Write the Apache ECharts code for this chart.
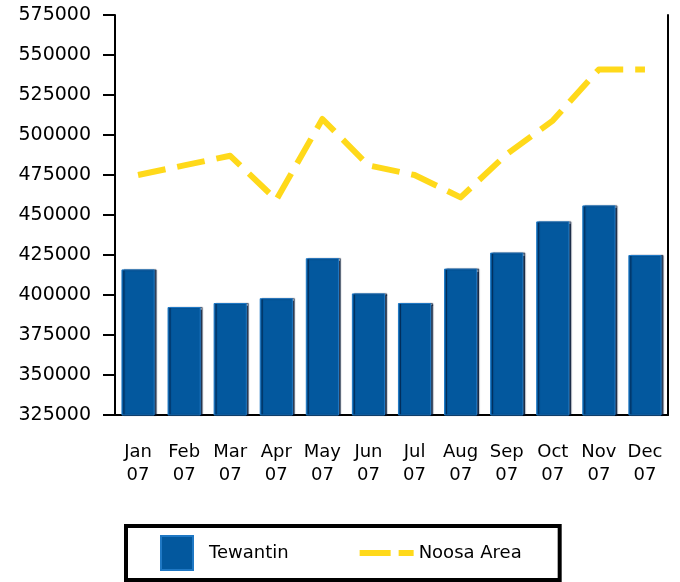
<!DOCTYPE html>
<html><head><meta charset="utf-8">
<script src="https://cdn.jsdelivr.net/npm/echarts@6/dist/echarts.min.js"></script>
<style>html,body{margin:0;padding:0;background:#fff}#c{width:680px;height:582px}</style>
</head><body><div id="c"></div>
<script>
var categories = ["Jan\n07","Feb\n07","Mar\n07","Apr\n07","May\n07","Jun\n07","Jul\n07","Aug\n07","Sep\n07","Oct\n07","Nov\n07","Dec\n07"];
var tewantin = [416000, 392500, 395000, 398000, 423000, 401000, 395000, 416500, 426500, 446000, 456000, 425000];
var noosaArea = [475000, 481000, 487000, 459500, 510000, 481000, 475000, 461000, 488000, 509000, 541000, 541000];
var yMin = 325000, yMax = 575000, yStep = 25000;

var font = 'DejaVu Sans';
var chart = echarts.init(document.getElementById('c'), null, {renderer:'canvas'});
chart.setOption({
  animation: false,
  backgroundColor: '#fff',
  grid: {left: 115, right: 12, top: 15, bottom: 167},
  xAxis: {
    type: 'category', data: categories,
    axisLine: {lineStyle: {color: '#000', width: 2}},
    axisTick: {alignWithLabel: true, length: 10, lineStyle: {color: '#000', width: 2}},
    axisLabel: {color: '#000', fontFamily: font, fontSize: 18, lineHeight: 23, margin: 26, interval: 0}
  },
  yAxis: [{
    type: 'value', min: yMin, max: yMax, interval: yStep,
    axisLine: {show: true, lineStyle: {color: '#000', width: 2}},
    axisTick: {show: true, length: 12, lineStyle: {color: '#000', width: 2}},
    axisLabel: {color: '#000', fontFamily: font, fontSize: 19, margin: 24, formatter: function(v){return String(v);}},
    splitLine: {show: false}
  },{
    type: 'value', min: yMin, max: yMax, interval: yStep, position: 'right',
    axisLine: {show: true, lineStyle: {color: '#000', width: 2}},
    axisTick: {show: false}, axisLabel: {show: false}, splitLine: {show: false}
  }],
  legend: {
    left: 126, top: 526,
    padding: [9, 38, 9, 34],
    borderColor: '#000', borderWidth: 4,
    itemWidth: 54, itemHeight: 34, itemGap: 71,
    textStyle: {color: '#000', fontFamily: font, fontSize: 18},
    data: [
      {name: 'Tewantin', icon: 'path://M0,0h32v34h-32z'},
      {name: 'Noosa Area', icon: 'path://M0,0h31v6h-31zM39,0h15v6h-15z'}
    ]
  },
  series: [{
    name: 'Tewantin', type: 'bar', data: tewantin, barCategoryGap: '28%',
    itemStyle: {color: '#03589e', borderColor: '#1f78c4', borderWidth: 1,
      shadowColor: 'rgba(0,20,50,0.8)', shadowOffsetX: 2, shadowBlur: 1}
  },{
    name: 'Noosa Area', type: 'line', data: noosaArea, symbol: 'none',
    lineStyle: {color: '#ffd91a', width: 6, type: [28, 12], cap: 'butt', join: 'round'},
    itemStyle: {color: '#ffd91a'}
  }]
});
</script></body></html>
